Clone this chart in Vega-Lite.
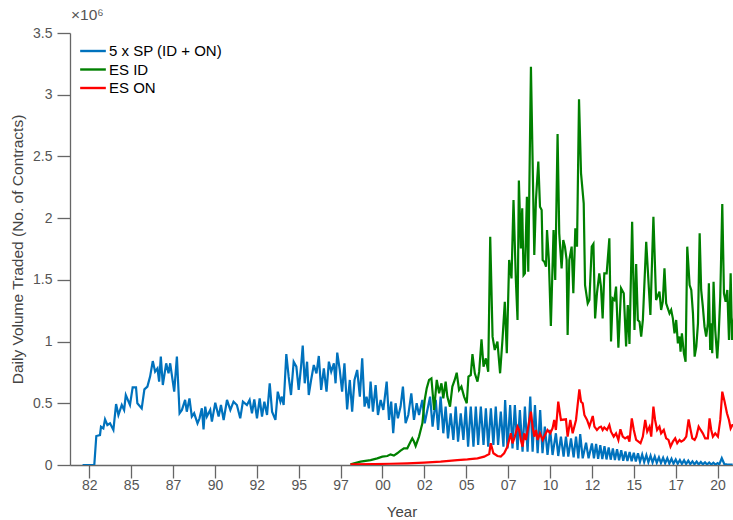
{
 "$schema": "https://vega.github.io/schema/vega-lite/v6.json",
 "width": 663, "height": 432,
 "autosize": {"type": "none"},
 "padding": {"left": 70, "top": 33, "right": 0, "bottom": 55},
 "background": "white",
 "config": {"view": {"stroke": null}, "font": "Liberation Sans"},
 "title": {"text": "×10⁶", "anchor": "start", "frame": "group", "orient": "top", "offset": 3, "dx": 1, "fontSize": 15.5, "fontWeight": "normal", "color": "#555555", "font": "Liberation Sans"},
 "datasets": {
  "sp": [
{"t":1982.10,"v":0},{"t":1982.80,"v":0},{"t":1982.92,"v":235000},{"t":1983.14,"v":243000},{"t":1983.20,"v":310000},{"t":1983.34,"v":297000},{"t":1983.44,"v":370000},{"t":1983.58,"v":324000},{"t":1983.74,"v":338000},{"t":1983.94,"v":284000},{"t":1984.10,"v":494000},{"t":1984.24,"v":405000},{"t":1984.44,"v":486000},{"t":1984.58,"v":446000},{"t":1984.68,"v":567000},{"t":1984.93,"v":486000},{"t":1985.09,"v":629000},{"t":1985.29,"v":629000},{"t":1985.37,"v":500000},{"t":1985.63,"v":459000},{"t":1985.79,"v":613000},{"t":1985.97,"v":635000},{"t":1986.13,"v":716000},{"t":1986.29,"v":842000},{"t":1986.43,"v":756000},{"t":1986.57,"v":783000},{"t":1986.67,"v":675000},{"t":1986.77,"v":878000},{"t":1986.89,"v":648000},{"t":1987.09,"v":824000},{"t":1987.23,"v":743000},{"t":1987.33,"v":824000},{"t":1987.57,"v":594000},{"t":1987.73,"v":878000},{"t":1987.89,"v":419000},{"t":1988.03,"v":446000},{"t":1988.22,"v":527000},{"t":1988.32,"v":432000},{"t":1988.48,"v":540000},{"t":1988.62,"v":392000},{"t":1988.76,"v":419000},{"t":1988.96,"v":338000},{"t":1989.08,"v":378000},{"t":1989.22,"v":459000},{"t":1989.32,"v":289000},{"t":1989.42,"v":473000},{"t":1989.52,"v":392000},{"t":1989.72,"v":446000},{"t":1989.82,"v":351000},{"t":1990.02,"v":505000},{"t":1990.22,"v":392000},{"t":1990.36,"v":486000},{"t":1990.52,"v":365000},{"t":1990.72,"v":527000},{"t":1990.92,"v":446000},{"t":1991.11,"v":513000},{"t":1991.31,"v":486000},{"t":1991.51,"v":378000},{"t":1991.67,"v":513000},{"t":1991.91,"v":486000},{"t":1992.07,"v":527000},{"t":1992.21,"v":419000},{"t":1992.35,"v":532000},{"t":1992.51,"v":378000},{"t":1992.67,"v":540000},{"t":1992.81,"v":392000},{"t":1992.95,"v":513000},{"t":1993.11,"v":405000},{"t":1993.27,"v":662000},{"t":1993.41,"v":432000},{"t":1993.61,"v":365000},{"t":1993.75,"v":594000},{"t":1993.91,"v":513000},{"t":1994.00,"v":554000},{"t":1994.10,"v":486000},{"t":1994.26,"v":899000},{"t":1994.40,"v":716000},{"t":1994.54,"v":567000},{"t":1994.70,"v":837000},{"t":1994.86,"v":797000},{"t":1995.00,"v":608000},{"t":1995.14,"v":797000},{"t":1995.24,"v":967000},{"t":1995.36,"v":662000},{"t":1995.50,"v":837000},{"t":1995.60,"v":567000},{"t":1995.74,"v":689000},{"t":1995.90,"v":810000},{"t":1996.06,"v":743000},{"t":1996.20,"v":883000},{"t":1996.34,"v":608000},{"t":1996.50,"v":783000},{"t":1996.66,"v":594000},{"t":1996.80,"v":837000},{"t":1996.94,"v":756000},{"t":1997.10,"v":824000},{"t":1997.20,"v":662000},{"t":1997.30,"v":910000},{"t":1997.45,"v":770000},{"t":1997.59,"v":594000},{"t":1997.73,"v":824000},{"t":1997.89,"v":451000},{"t":1998.05,"v":689000},{"t":1998.19,"v":432000},{"t":1998.33,"v":689000},{"t":1998.49,"v":770000},
{"t":1998.65,"v":554000},{"t":1998.79,"v":864000},{"t":1998.93,"v":473000},{"t":1999.05,"v":554000},{"t":1999.19,"v":459000},{"t":1999.29,"v":675000},{"t":1999.43,"v":432000},{"t":1999.59,"v":648000},{"t":1999.73,"v":405000},{"t":1999.89,"v":527000},{"t":2000.05,"v":446000},{"t":2000.25,"v":675000},{"t":2000.39,"v":365000},{"t":2000.52,"v":513000},{"t":2000.64,"v":257000},{"t":2000.78,"v":500000},{"t":2000.92,"v":378000},{"t":2001.08,"v":473000},{"t":2001.22,"v":635000},{"t":2001.38,"v":338000},{"t":2001.54,"v":405000},{"t":2001.72,"v":581000},{"t":2001.88,"v":365000},{"t":2002.04,"v":500000},{"t":2002.18,"v":405000},{"t":2002.38,"v":527000},{"t":2002.52,"v":338000},{"t":2002.68,"v":446000},{"t":2002.84,"v":554000},{"t":2002.99,"v":311000},{"t":2003.18,"v":527000},{"t":2003.32,"v":284000},{"t":2003.47,"v":554000},{"t":2003.63,"v":257000},{"t":2003.77,"v":473000},{"t":2003.91,"v":216000},{"t":2004.07,"v":419000},{"t":2004.23,"v":203000},{"t":2004.37,"v":473000},{"t":2004.51,"v":189000},{"t":2004.67,"v":419000},{"t":2004.83,"v":203000},{"t":2004.97,"v":473000},{"t":2005.11,"v":149000},{"t":2005.27,"v":473000},{"t":2005.43,"v":149000},{"t":2005.57,"v":473000},{"t":2005.71,"v":162000},{"t":2005.87,"v":473000},{"t":2006.03,"v":162000},{"t":2006.17,"v":459000},{"t":2006.31,"v":149000},{"t":2006.47,"v":459000},{"t":2006.62,"v":162000},{"t":2006.76,"v":473000},{"t":2006.90,"v":162000},{"t":2007.06,"v":432000},{"t":2007.22,"v":149000},{"t":2007.32,"v":527000},{"t":2007.46,"v":135000},{"t":2007.62,"v":486000},{"t":2007.76,"v":135000},{"t":2007.90,"v":486000},{"t":2008.06,"v":122000},{"t":2008.20,"v":446000},{"t":2008.36,"v":108000},{"t":2008.50,"v":473000},{"t":2008.66,"v":108000},{"t":2008.82,"v":554000},{"t":2008.96,"v":108000},{"t":2009.10,"v":486000},{"t":2009.26,"v":95000},{"t":2009.41,"v":446000},{"t":2009.55,"v":95000},{"t":2009.69,"v":311000},{"t":2009.85,"v":81000},{"t":2010.01,"v":284000},{"t":2010.15,"v":81000},{"t":2010.35,"v":257000},{"t":2010.49,"v":73000},{"t":2010.65,"v":230000},{"t":2010.81,"v":68000},{"t":2010.95,"v":230000},{"t":2011.09,"v":68000},{"t":2011.25,"v":216000},{"t":2011.41,"v":62000},{"t":2011.55,"v":230000},{"t":2011.69,"v":54000},{"t":2011.80,"v":250000},{"t":2011.95,"v":54000},{"t":2012.15,"v":180000},{"t":2012.30,"v":54000},
{"t":2012.50,"v":175000},{"t":2012.62,"v":54000},{"t":2012.75,"v":170000},{"t":2012.87,"v":50000},{"t":2013.00,"v":160000},{"t":2013.12,"v":48000},{"t":2013.25,"v":152000},{"t":2013.37,"v":45000},{"t":2013.50,"v":142000},{"t":2013.62,"v":43000},{"t":2013.75,"v":135000},{"t":2013.87,"v":40000},{"t":2014.00,"v":128000},{"t":2014.12,"v":38000},{"t":2014.25,"v":120000},{"t":2014.37,"v":35000},{"t":2014.50,"v":110000},{"t":2014.62,"v":32000},{"t":2014.75,"v":105000},{"t":2014.87,"v":30000},{"t":2015.00,"v":100000},{"t":2015.12,"v":28000},{"t":2015.25,"v":95000},{"t":2015.37,"v":26000},{"t":2015.50,"v":85000},{"t":2015.62,"v":24000},{"t":2015.75,"v":80000},{"t":2015.87,"v":22000},{"t":2016.00,"v":75000},{"t":2016.12,"v":20000},{"t":2016.25,"v":70000},{"t":2016.37,"v":18000},{"t":2016.50,"v":62000},{"t":2016.62,"v":16000},{"t":2016.75,"v":58000},{"t":2016.87,"v":14000},{"t":2017.00,"v":55000},{"t":2017.12,"v":12000},{"t":2017.25,"v":50000},{"t":2017.37,"v":11000},{"t":2017.50,"v":45000},{"t":2017.62,"v":10000},{"t":2017.75,"v":40000},{"t":2017.87,"v":9000},{"t":2018.00,"v":38000},{"t":2018.12,"v":8000},{"t":2018.25,"v":35000},{"t":2018.37,"v":7000},{"t":2018.50,"v":30000},{"t":2018.62,"v":6000},{"t":2018.75,"v":28000},{"t":2018.87,"v":5000},{"t":2019.00,"v":25000},{"t":2019.12,"v":5000},{"t":2019.25,"v":22000},{"t":2019.37,"v":4000},{"t":2019.50,"v":20000},{"t":2019.62,"v":4000},{"t":2019.75,"v":18000},{"t":2019.87,"v":3000},{"t":2020.00,"v":15000},{"t":2020.10,"v":5000},{"t":2020.25,"v":55000},{"t":2020.40,"v":8000},{"t":2020.55,"v":5000},{"t":2020.70,"v":3000},{"t":2020.90,"v":3000}
  ],
  "id": [
{"t":1998.09,"v":5000},{"t":1998.69,"v":27000},{"t":1999.29,"v":40000},{"t":1999.69,"v":54000},{"t":1999.99,"v":68000},{"t":2000.29,"v":73000},{"t":2000.48,"v":86000},{"t":2000.68,"v":76000},{"t":2000.88,"v":95000},{"t":2001.08,"v":116000},{"t":2001.28,"v":135000},{"t":2001.48,"v":135000},{"t":2001.68,"v":190000},{"t":2001.78,"v":216000},{"t":2001.88,"v":190000},{"t":2001.98,"v":154000},{"t":2002.18,"v":230000},{"t":2002.38,"v":338000},{"t":2002.52,"v":527000},{"t":2002.64,"v":621000},{"t":2002.78,"v":689000},{"t":2002.92,"v":702000},{"t":2003.08,"v":446000},{"t":2003.24,"v":689000},{"t":2003.38,"v":581000},{"t":2003.52,"v":662000},{"t":2003.63,"v":540000},{"t":2003.77,"v":675000},{"t":2003.87,"v":554000},{"t":2004.03,"v":473000},{"t":2004.17,"v":635000},{"t":2004.31,"v":689000},{"t":2004.43,"v":748000},{"t":2004.57,"v":608000},{"t":2004.71,"v":635000},{"t":2004.87,"v":554000},{"t":2005.03,"v":500000},{"t":2005.13,"v":716000},{"t":2005.27,"v":729000},{"t":2005.37,"v":899000},{"t":2005.51,"v":743000},{"t":2005.67,"v":675000},{"t":2005.77,"v":756000},{"t":2005.91,"v":1018000},{"t":2006.03,"v":797000},{"t":2006.17,"v":864000},{"t":2006.31,"v":756000},{"t":2006.43,"v":1850000},{"t":2006.57,"v":1040000},{"t":2006.70,"v":932000},{"t":2006.86,"v":999000},{"t":2007.02,"v":743000},{"t":2007.16,"v":1013000},{"t":2007.30,"v":1323000},{"t":2007.42,"v":905000},{"t":2007.56,"v":1661000},{"t":2007.70,"v":1512000},{"t":2007.82,"v":2147000},{"t":2007.96,"v":1499000},{"t":2008.06,"v":1175000},{"t":2008.14,"v":2304000},{"t":2008.26,"v":1755000},{"t":2008.34,"v":2080000},{"t":2008.42,"v":1539000},{"t":2008.50,"v":1553000},{"t":2008.62,"v":2174000},{"t":2008.70,"v":1566000},{"t":2008.86,"v":3227000},{"t":2009.06,"v":1701000},{"t":2009.16,"v":2147000},{"t":2009.30,"v":2458000},{"t":2009.40,"v":2093000},{"t":2009.50,"v":2066000},{"t":2009.56,"v":1661000},{"t":2009.66,"v":1647000},{"t":2009.76,"v":1607000},{"t":2009.82,"v":1904000},{"t":2009.93,"v":1661000},{"t":2010.05,"v":1126000},{"t":2010.21,"v":1904000},{"t":2010.31,"v":1499000},{"t":2010.45,"v":2682000},{"t":2010.55,"v":1877000},{"t":2010.69,"v":1593000},{"t":2010.79,"v":1823000},{"t":2010.89,"v":1769000},{"t":2010.99,"v":1661000},{"t":2011.05,"v":1053000},{"t":2011.15,"v":1661000},{"t":2011.29,"v":1769000},{"t":2011.39,"v":1391000},{"t":2011.51,"v":1917000},{"t":2011.61,"v":1769000},{"t":2011.73,"v":2963000},{"t":2011.85,"v":2363000},{"t":2012.01,"v":2120000},{"t":2012.09,"v":1458000},{"t":2012.25,"v":1310000},{"t":2012.35,"v":1337000},{"t":2012.49,"v":1769000},{"t":2012.59,"v":1791000},{"t":2012.69,"v":1188000},{"t":2012.80,"v":1391000},{"t":2012.94,"v":1553000},{"t":2013.04,"v":1445000},{"t":2013.14,"v":1188000},{"t":2013.24,"v":1553000},{"t":2013.38,"v":1553000},{"t":2013.54,"v":1836000},{"t":2013.64,"v":1000000},{"t":2013.74,"v":1350000},{"t":2013.84,"v":1337000},{"t":2013.94,"v":1445000},{"t":2014.08,"v":950000},{"t":2014.24,"v":1431000},{"t":2014.40,"v":1391000},{"t":2014.54,"v":960000},{"t":2014.64,"v":1296000},{"t":2014.74,"v":980000},{"t":2014.90,"v":1971000},{"t":2015.04,"v":1094000},{"t":2015.14,"v":1628000},{"t":2015.24,"v":1175000},{"t":2015.34,"v":1161000},{"t":2015.44,"v":1040000},{"t":2015.54,"v":1175000},{"t":2015.74,"v":1809000},{"t":2015.99,"v":1215000},{"t":2016.17,"v":2012000},{"t":2016.33,"v":1337000},{"t":2016.53,"v":1404000},{"t":2016.63,"v":1256000},{"t":2016.73,"v":1323000},{"t":2016.83,"v":1593000},{"t":2016.93,"v":1310000},{"t":2017.03,"v":1269000},{"t":2017.13,"v":1229000},{"t":2017.23,"v":1256000},{"t":2017.33,"v":1188000},{"t":2017.43,"v":1067000},{"t":2017.53,"v":1175000},{"t":2017.63,"v":986000},{"t":2017.73,"v":1040000},{"t":2017.79,"v":918000},{"t":2017.87,"v":1067000},{"t":2017.99,"v":905000},{"t":2018.09,"v":837000},{"t":2018.19,"v":1769000},{"t":2018.33,"v":1458000},{"t":2018.43,"v":1418000},{"t":2018.53,"v":1229000},{"t":2018.63,"v":878000},{"t":2018.73,"v":959000},{"t":2018.83,"v":1148000},{"t":2018.93,"v":1877000},{"t":2019.02,"v":1418000},{"t":2019.12,"v":1283000},{"t":2019.22,"v":1121000},{"t":2019.32,"v":1040000},{"t":2019.42,"v":1148000},{"t":2019.48,"v":1472000},{"t":2019.56,"v":932000},{"t":2019.62,"v":1148000},{"t":2019.68,"v":905000},{"t":2019.76,"v":1485000},{"t":2019.86,"v":1094000},{"t":2019.98,"v":864000},{"t":2020.06,"v":1040000},{"t":2020.16,"v":1364000},{"t":2020.28,"v":2115000},{"t":2020.38,"v":1391000},{"t":2020.48,"v":1323000},{"t":2020.58,"v":1418000},{"t":2020.68,"v":1013000},{"t":2020.78,"v":1553000},{"t":2020.86,"v":1013000},{"t":2020.99,"v":1202000}
  ],
  "on": [
{"t":1998.09,"v":5000},{"t":1999.49,"v":8000},{"t":2000.50,"v":10000},{"t":2001.48,"v":13000},{"t":2002.48,"v":19000},{"t":2003.47,"v":27000},{"t":2004.47,"v":40000},{"t":2005.07,"v":46000},{"t":2005.67,"v":54000},{"t":2006.07,"v":68000},{"t":2006.37,"v":89000},{"t":2006.46,"v":176000},{"t":2006.62,"v":95000},{"t":2006.86,"v":73000},{"t":2007.06,"v":68000},{"t":2007.26,"v":95000},{"t":2007.46,"v":149000},{"t":2007.66,"v":257000},{"t":2007.76,"v":176000},{"t":2007.90,"v":230000},{"t":2008.06,"v":311000},{"t":2008.16,"v":284000},{"t":2008.26,"v":203000},{"t":2008.36,"v":149000},{"t":2008.46,"v":257000},{"t":2008.56,"v":203000},{"t":2008.70,"v":311000},{"t":2008.86,"v":432000},{"t":2008.96,"v":311000},{"t":2009.06,"v":230000},{"t":2009.16,"v":284000},{"t":2009.26,"v":203000},{"t":2009.40,"v":257000},{"t":2009.56,"v":203000},{"t":2009.70,"v":243000},{"t":2009.85,"v":284000},{"t":2010.01,"v":257000},{"t":2010.15,"v":297000},{"t":2010.25,"v":365000},{"t":2010.35,"v":284000},{"t":2010.49,"v":513000},{"t":2010.65,"v":365000},{"t":2010.95,"v":370000},{"t":2011.05,"v":230000},{"t":2011.21,"v":365000},{"t":2011.35,"v":257000},{"t":2011.55,"v":365000},{"t":2011.75,"v":613000},{"t":2011.85,"v":513000},{"t":2011.95,"v":500000},{"t":2012.05,"v":405000},{"t":2012.21,"v":365000},{"t":2012.35,"v":311000},{"t":2012.55,"v":397000},{"t":2012.65,"v":311000},{"t":2012.80,"v":284000},{"t":2012.94,"v":305000},{"t":2013.04,"v":311000},{"t":2013.14,"v":284000},{"t":2013.24,"v":305000},{"t":2013.40,"v":284000},{"t":2013.54,"v":324000},{"t":2013.64,"v":270000},{"t":2013.80,"v":230000},{"t":2013.94,"v":257000},{"t":2014.08,"v":203000},{"t":2014.20,"v":289000},{"t":2014.34,"v":230000},{"t":2014.48,"v":216000},{"t":2014.64,"v":230000},{"t":2014.74,"v":189000},{"t":2014.88,"v":378000},{"t":2015.00,"v":284000},{"t":2015.14,"v":203000},{"t":2015.28,"v":189000},{"t":2015.40,"v":176000},{"t":2015.54,"v":230000},{"t":2015.68,"v":365000},{"t":2015.80,"v":270000},{"t":2015.94,"v":311000},{"t":2016.04,"v":230000},{"t":2016.17,"v":473000},{"t":2016.27,"v":365000},{"t":2016.39,"v":284000},{"t":2016.53,"v":311000},{"t":2016.63,"v":257000},{"t":2016.79,"v":284000},{"t":2016.93,"v":216000},{"t":2017.07,"v":203000},{"t":2017.19,"v":149000},{"t":2017.33,"v":189000},{"t":2017.47,"v":216000},{"t":2017.59,"v":176000},{"t":2017.73,"v":203000},{"t":2017.83,"v":189000},{"t":2017.99,"v":203000},{"t":2018.13,"v":230000},{"t":2018.27,"v":370000},{"t":2018.39,"v":284000},{"t":2018.49,"v":216000},{"t":2018.63,"v":203000},{"t":2018.73,"v":230000},{"t":2018.87,"v":311000},{"t":2018.99,"v":284000},{"t":2019.12,"v":257000},{"t":2019.26,"v":216000},{"t":2019.42,"v":216000},{"t":2019.52,"v":378000},{"t":2019.62,"v":284000},{"t":2019.72,"v":230000},{"t":2019.86,"v":257000},{"t":2020.02,"v":230000},{"t":2020.16,"v":365000},{"t":2020.28,"v":594000},{"t":2020.42,"v":513000},{"t":2020.56,"v":419000},{"t":2020.68,"v":365000},{"t":2020.78,"v":297000},{"t":2020.88,"v":324000},{"t":2020.99,"v":324000}
  ]
 },
 "encoding": {
  "x": {"field": "t", "type": "quantitative",
   "scale": {"domain": [1981.35, 2020.92], "nice": false, "zero": false},
   "axis": {"values": [1982.5,1985,1987.5,1990,1992.5,1995,1997.5,2000,2002.5,2005,2007.5,2010,2012.5,2015,2017.5,2020],
    "labelExpr": "(floor(datum.value) % 100 < 10 ? '0' : '') + (floor(datum.value) % 100)",
    "grid": false, "tickSize": 13, "tickWidth": 1.3, "domainWidth": 1.3,
    "domainColor": "#666666", "tickColor": "#666666", "labelColor": "#555555",
    "labelFont": "Liberation Sans", "labelFontSize": 14, "labelPadding": 0, "labelFlush": false, "labelOverlap": false,
    "title": "Year", "titleFont": "Liberation Sans", "titleFontSize": 15, "titleFontWeight": "normal", "titleColor": "#444444", "titlePadding": 12}},
  "y": {"field": "v", "type": "quantitative",
   "scale": {"domain": [0, 3500000], "nice": false},
   "axis": {"values": [0,500000,1000000,1500000,2000000,2500000,3000000,3500000],
    "labelExpr": "datum.value / 1000000",
    "grid": false, "tickSize": 13, "tickWidth": 1.3, "domainWidth": 1.3,
    "domainColor": "#666666", "tickColor": "#666666", "labelColor": "#555555",
    "labelFont": "Liberation Sans", "labelFontSize": 14, "labelPadding": 5, "labelFlush": false, "labelOverlap": false,
    "title": "Daily Volume Traded (No. of Contracts)", "titleFont": "Liberation Sans", "titleFontSize": 15.5, "titleFontWeight": "normal", "titleColor": "#444444", "titlePadding": 7}}
 },
 "layer": [
  {"data": {"name": "sp"}, "mark": {"type": "line", "strokeWidth": 2.2, "clip": true},
   "encoding": {"color": {"datum": "5 x SP (ID + ON)", "type": "nominal",
     "scale": {"domain": ["5 x SP (ID + ON)", "ES ID", "ES ON"], "range": ["#0072BD", "#008000", "#FF0000"]},
     "legend": {"title": null, "orient": "none", "legendX": 13, "legendY": 8, "padding": 0,
       "symbolType": "M-1.51,0H1.51", "symbolSize": 289, "symbolStrokeWidth": 2.4, "rowPadding": 0.5,
       "labelFont": "Liberation Sans", "labelFontSize": 15, "labelColor": "#000000", "labelOffset": 6}}}},
  {"data": {"name": "id"}, "mark": {"type": "line", "strokeWidth": 2.2, "clip": true},
   "encoding": {"color": {"datum": "ES ID", "type": "nominal"}}},
  {"data": {"name": "on"}, "mark": {"type": "line", "strokeWidth": 2.2, "clip": true},
   "encoding": {"color": {"datum": "ES ON", "type": "nominal"}}}
 ]
}
